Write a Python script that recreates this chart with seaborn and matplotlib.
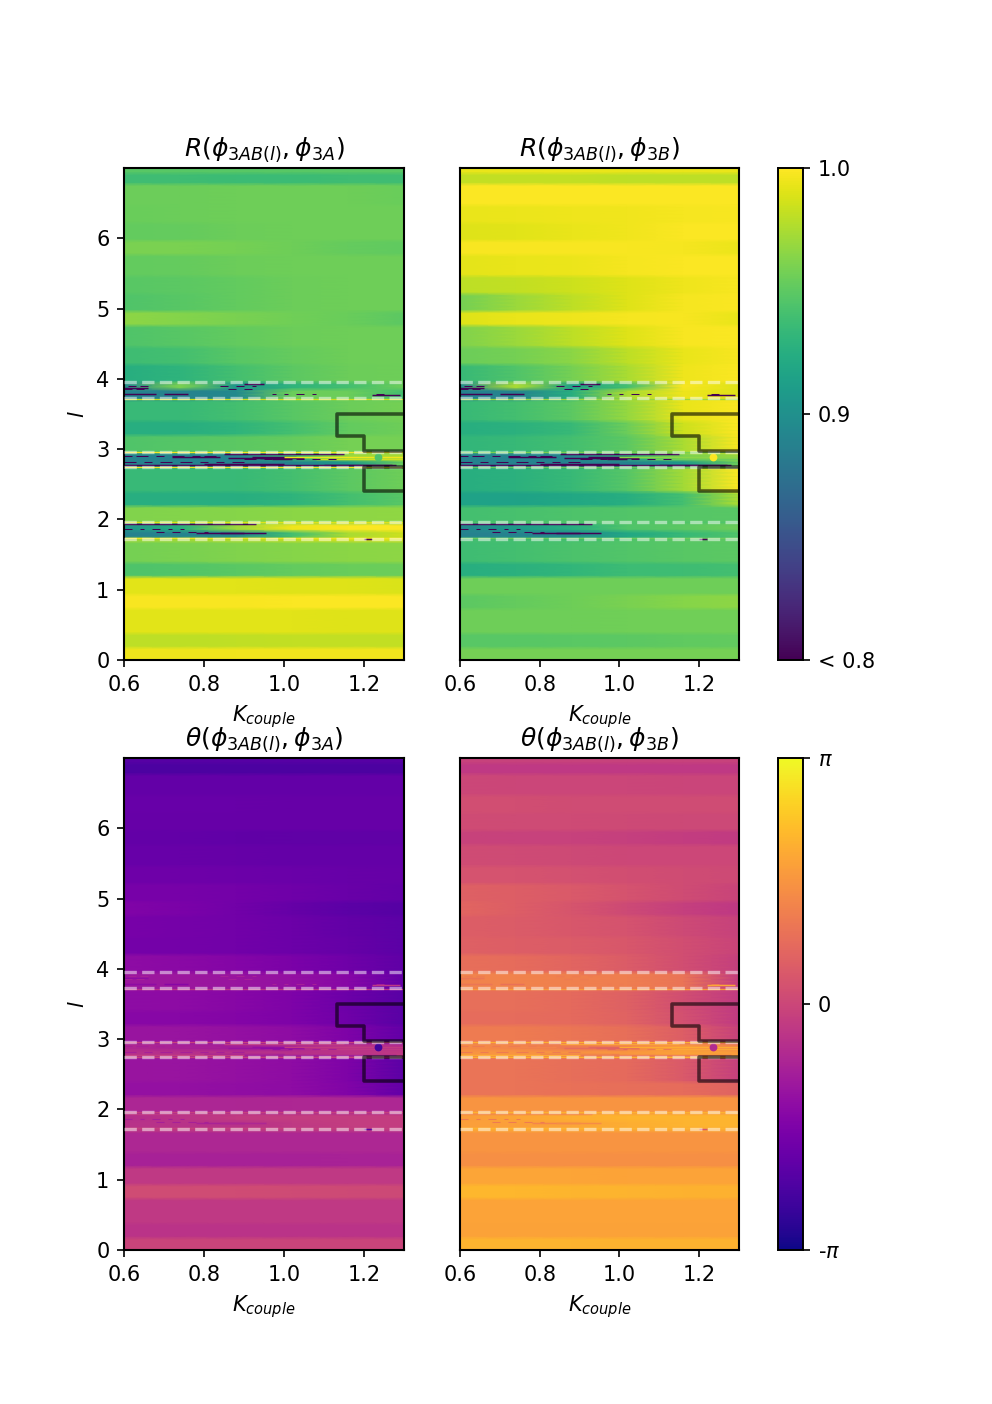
import numpy as np
import pandas as pd
import matplotlib
matplotlib.use("Agg")
import matplotlib.pyplot as plt
import seaborn as sns

# K columns of the tables, and the l edges of the horizontal bands
k_values = [0.6, 0.74, 0.88, 1.02, 1.16, 1.3]
band_edges = [0, .2, .4, .75, .95, 1.2, 1.4, 1.7, 1.75, 1.85, 1.95, 2.2, 2.4, 2.75, 2.85, 2.95, 3.2,
              3.4, 3.7, 3.85, 3.95, 4.2, 4.45, 4.75, 4.95, 5.2, 5.45, 5.75, 5.95, 6.2, 6.45, 6.75, 6.9, 7.0]

# one row per band, from l = 0 upward
r_3a = [
    [.995, .995, .996, .996, .996, .996],
    [.980, .980, .981, .982, .982, .982],
    [.991, .991, .991, .991, .990, .990],
    [.998, .998, .998, .999, .999, .999],
    [.991, .991, .991, .990, .990, .989],
    [.944, .946, .949, .952, .954, .955],
    [.958, .960, .962, .964, .965, .966],
    [.975, .975, .980, .985, .990, .990],
    [.888, .890, .895, .940, .975, .985],
    [.905, .925, .970, .995, .999, .999],
    [.962, .963, .964, .965, .966, .967],
    [.925, .925, .925, .930, .940, .948],
    [.935, .935, .935, .940, .950, .956],
    [.888, .888, .888, .890, .910, .955],
    [.888, .890, .890, .935, .970, .975],
    [.945, .947, .950, .953, .958, .958],
    [.925, .925, .930, .940, .952, .956],
    [.935, .935, .940, .948, .955, .958],
    [.888, .888, .895, .955, .955, .940],
    [.895, .960, .905, .930, .940, .955],
    [.925, .930, .940, .950, .955, .956],
    [.938, .940, .948, .953, .956, .956],
    [.945, .948, .952, .955, .956, .956],
    [.966, .963, .960, .957, .954, .950],
    [.945, .948, .952, .955, .956, .956],
    [.948, .950, .952, .955, .956, .956],
    [.952, .953, .955, .956, .956, .956],
    [.960, .960, .958, .956, .953, .951],
    [.952, .953, .955, .956, .956, .956],
    [.954, .955, .956, .956, .956, .956],
    [.955, .955, .956, .956, .956, .954],
    [.938, .938, .936, .936, .938, .938],
    [.948, .948, .948, .948, .948, .948],
]
r_3b = [
    [.958, .958, .958, .958, .958, .958],
    [.948, .948, .949, .950, .951, .952],
    [.956, .956, .956, .957, .957, .957],
    [.950, .953, .956, .960, .964, .966],
    [.956, .956, .956, .956, .956, .956],
    [.925, .928, .932, .937, .938, .940],
    [.938, .940, .943, .946, .948, .950],
    [.940, .940, .940, .945, .950, .950],
    [.888, .890, .895, .920, .935, .945],
    [.892, .908, .925, .945, .950, .955],
    [.940, .942, .944, .946, .947, .948],
    [.915, .915, .920, .925, .940, .975],
    [.925, .928, .935, .947, .972, .999],
    [.888, .888, .888, .890, .910, .955],
    [.888, .890, .890, .930, .960, .970],
    [.932, .935, .940, .950, .975, .998],
    [.925, .928, .935, .955, .985, .999],
    [.935, .940, .950, .968, .993, .999],
    [.888, .890, .925, .975, .995, .990],
    [.895, .975, .915, .940, .998, .990],
    [.935, .945, .958, .975, .995, .999],
    [.955, .958, .965, .980, .993, .998],
    [.962, .970, .980, .990, .998, .999],
    [.990, .993, .995, .997, .998, .993],
    [.958, .970, .980, .990, .997, .999],
    [.980, .982, .985, .990, .995, .998],
    [.992, .993, .994, .997, .999, .999],
    [.998, .998, .998, .998, .997, .994],
    [.990, .991, .993, .996, .999, .999],
    [.993, .994, .995, .996, .997, .998],
    [.999, .999, .999, .999, .999, .999],
    [.982, .982, .982, .980, .980, .980],
    [.993, .993, .993, .993, .993, .993],
]
theta_3a = [
    [-.06, -.06, -.06, -.06, -.06, -.06],
    [-.44, -.44, -.44, -.44, -.44, -.44],
    [-.31, -.31, -.31, -.31, -.31, -.31],
    [.12, .12, .10, .08, .05, .03],
    [-.30, -.30, -.30, -.30, -.30, -.30],
    [-.82, -.82, -.82, -.81, -.80, -.80],
    [-.70, -.70, -.70, -.70, -.70, -.70],
    [-.25, -.25, -.25, -.25, -.25, -.25],
    [-.45, -.45, -.45, -.30, -.20, -.20],
    [-.55, -.40, -.25, -.20, -.20, -.20],
    [-.72, -.72, -.72, -.70, -.70, -.70],
    [-1.20, -1.20, -1.25, -1.30, -1.50, -2.00],
    [-1.10, -1.12, -1.20, -1.30, -1.55, -2.10],
    [-.50, -.50, -.50, -.50, -.40, -.30],
    [-.65, -.80, -.90, -.70, -.40, -.60],
    [-1.10, -1.12, -1.20, -1.30, -1.55, -2.00],
    [-1.40, -1.40, -1.45, -1.55, -1.80, -2.15],
    [-1.30, -1.32, -1.40, -1.55, -1.85, -2.15],
    [-1.05, -1.05, -1.10, -1.20, -1.40, -2.00],
    [-1.05, -1.05, -1.10, -1.20, -1.40, -2.00],
    [-1.30, -1.35, -1.45, -1.60, -1.80, -2.05],
    [-1.70, -1.72, -1.75, -1.85, -1.95, -2.10],
    [-1.65, -1.70, -1.75, -1.85, -2.00, -2.10],
    [-1.50, -1.60, -1.75, -1.95, -2.10, -2.20],
    [-1.65, -1.68, -1.72, -1.80, -1.90, -2.00],
    [-1.80, -1.82, -1.85, -1.88, -1.92, -1.95],
    [-1.92, -1.93, -1.95, -1.97, -1.97, -1.97],
    [-2.00, -2.00, -2.02, -2.05, -2.05, -2.05],
    [-1.95, -1.95, -1.95, -1.96, -1.96, -1.96],
    [-1.93, -1.93, -1.93, -1.94, -1.94, -1.94],
    [-2.00, -2.00, -2.00, -2.00, -2.00, -2.00],
    [-2.35, -2.35, -2.35, -2.35, -2.35, -2.35],
    [-2.20, -2.20, -2.20, -2.20, -2.20, -2.20],
]
theta_3b = [
    [2.10, 2.10, 2.10, 2.08, 2.08, 2.08],
    [1.80, 1.80, 1.80, 1.80, 1.80, 1.80],
    [1.83, 1.83, 1.83, 1.82, 1.82, 1.82],
    [2.15, 2.14, 2.12, 2.10, 2.07, 2.05],
    [1.85, 1.85, 1.85, 1.84, 1.84, 1.84],
    [1.45, 1.45, 1.45, 1.45, 1.45, 1.45],
    [1.57, 1.57, 1.57, 1.57, 1.57, 1.57],
    [1.95, 1.95, 1.95, 1.95, 1.95, 1.95],
    [1.75, 1.75, 1.85, 2.00, 2.10, 2.10],
    [1.70, 1.85, 2.00, 2.10, 2.10, 2.10],
    [1.57, 1.57, 1.57, 1.57, 1.57, 1.57],
    [.95, .95, .90, .85, .80, .60],
    [.95, .95, .85, .75, .40, -.15],
    [1.55, 1.55, 1.50, 1.60, 1.80, 1.70],
    [1.40, 1.30, 1.10, 1.30, 1.60, 1.20],
    [1.10, 1.10, 1.00, .85, .50, -.10],
    [.80, .80, .75, .60, .20, -.25],
    [.85, .85, .75, .55, .15, -.25],
    [1.25, 1.25, 1.20, 1.15, .95, -.20],
    [1.25, 1.25, 1.20, 1.15, .95, -.20],
    [.85, .80, .65, .45, .15, -.15],
    [.55, .50, .45, .35, .15, -.05],
    [.50, .45, .35, .25, .05, -.10],
    [.65, .50, .30, .05, -.15, -.30],
    [.55, .50, .40, .25, .10, -.05],
    [.25, .25, .20, .15, .10, .05],
    [.10, .08, .05, .02, .00, .00],
    [-.08, -.10, -.10, -.15, -.20, -.25],
    [.10, .08, .08, .05, .03, .03],
    [.15, .15, .12, .10, .10, .10],
    [.00, -.02, -.02, -.02, -.03, -.03],
    [-.30, -.30, -.30, -.30, -.30, -.30],
    [-.10, -.10, -.10, -.10, -.10, -.10],
]

# thin unstable streaks: l, K start, K end, then the value in each panel
streak_l = [1.93, 1.81, 1.80, 1.72,
            2.925, 2.895, 2.885, 2.875, 2.87, 2.865, 2.79, 2.78, 2.775, 2.77,
            3.93, 3.875, 3.79, 3.785, 3.775,
            2.885, 2.86]
streak_k0 = [.60, .78, .84, 1.20,
             .85, .72, .92, .86, .94, .97, .80, 1.10, .60, .90,
             .90, .60, .60, .70, 1.22,
             1.00, 1.08]
streak_k1 = [.93, .90, .955, 1.22,
             1.15, .84, 1.03, .98, 1.05, 1.02, 1.00, 1.27, .98, 1.28,
             .95, .66, .68, .76, 1.29,
             1.30, 1.30]
streak_r3a = [.78, .78, .78, .78,
              .78, .78, .78, .78, .78, .78, .78, .78, .78, .78,
              .79, .78, .80, .78, .78,
              .995, .985]
streak_r3b = [.78, .78, .78, .78,
              .78, .78, .78, .78, .78, .78, .78, .78, .78, .78,
              .79, .78, .80, .78, .78,
              .965, .955]
streak_th3a = [-.3, -.8, -.7, -2.2,
               -.3, -.8, -1.2, -1.1, -1.3, -1.2, -.8, -.1, -.2, -.9,
               -1.3, -1.3, -1.3, -1.4, -.3,
               -.25, -.3]
streak_th3b = [1.4, 1.3, 1.4, .3,
               1.8, 1.3, .7, .8, .6, .7, 1.2, 1.9, 1.95, 1.1,
               1.0, 1.0, 1.0, .9, 1.9,
               1.95, 1.9]

# broken-up speckle along the same resonances
speckle_l = [2.90, 2.90, 2.90, 2.90, 2.90, 2.90,
             2.81, 2.81, 2.81, 2.81, 2.81, 2.81, 2.81,
             2.86, 2.86, 2.86, 2.86, 2.86, 2.86,
             1.86, 1.86, 1.86, 1.86, 1.86,
             1.82, 1.82, 1.82, 1.82,
             3.90, 3.90, 3.90, 3.90, 3.90,
             3.86, 3.86, 3.86, 3.86,
             3.79, 3.79, 3.79, 3.79, 3.79]
speckle_k0 = [.60, .63, .68, .72, .77, .80,
              .60, .65, .69, .74, .79, .83, .87,
              .90, .95, .99, 1.03, 1.07, 1.11,
              .60, .64, .67, .71, .74,
              .68, .72, .76, .80,
              .61, .64, .84, .88, .92,
              .60, .63, .86, .90,
              .97, 1.00, 1.03, 1.07, 1.23]
speckle_k1 = [.62, .66, .70, .75, .79, .83,
              .63, .67, .72, .77, .81, .85, .90,
              .93, .97, 1.01, 1.05, 1.09, 1.13,
              .62, .65, .69, .72, .75,
              .70, .74, .78, .81,
              .63, .66, .86, .90, .93,
              .62, .65, .88, .92,
              .98, 1.01, 1.05, 1.08, 1.25]
speckle_vals = [.79, .79, -.85, 1.1]

# bright lines just inside the dashed lines
edge_l = [1.73, 1.96, 2.745, 2.96, 3.72]
edge_r3a = [.995, .99, .998, .998, .985]
edge_r3b = [.955, .945, .955, .96, .97]
edge_th3a = [-.15, -.15, -.1, -.1, -.4]
edge_th3b = [2.1, 2.05, 2.1, 2.05, 1.7]

# blob near the end of the l = 3 resonance
dot_k = [1.235]
dot_l = [2.89]
dot_vals = [.945, .999, -2.5, -.6]

dashed_l = [1.72, 1.97, 2.74, 2.96, 3.73, 3.96]
contour_upper_k = [1.3, 1.1325, 1.1325, 1.2, 1.2, 1.3]
contour_upper_l = [3.5, 3.5, 3.186, 3.186, 2.97, 2.97]
contour_lower_k = [1.3, 1.2, 1.2, 1.3]
contour_lower_l = [2.74, 2.74, 2.40, 2.40]

k_ticks = [0.6, 0.8, 1.0, 1.2]
l_ticks = [0, 1, 2, 3, 4, 5, 6]

titles = [r"$R(\phi_{3AB(l)}, \phi_{3A})$", r"$R(\phi_{3AB(l)}, \phi_{3B})$",
          r"$\theta(\phi_{3AB(l)}, \phi_{3A})$", r"$\theta(\phi_{3AB(l)}, \phi_{3B})$"]

band_rows = np.round(np.diff(band_edges) / 0.05).astype(int)
n_rows = band_rows.sum()


def k_pos(k):
    return (np.asarray(k) - k_values[0]) / (k_values[-1] - k_values[0]) * (len(k_values) - 1)


def l_pos(l):
    return np.asarray(l) * (n_rows - 1) / 7.0


def draw_panel(ax, rows, streaks, edges, speckle, dot_val, title, cmap, vmin, vmax, left, cax, cbar_kws):
    table = pd.DataFrame(np.repeat(np.array(rows), band_rows, axis=0), columns=k_values)
    sns.heatmap(table, ax=ax, cmap=cmap, vmin=vmin, vmax=vmax, shading="gouraud",
                xticklabels=False, yticklabels=False, linewidths=0,
                cbar=cax is not None, cbar_ax=cax, cbar_kws=cbar_kws)
    ax.set_xlim(0, len(k_values) - 1)
    ax.set_ylim(0, n_rows - 1)
    for side in ax.spines.values():
        side.set_visible(True)
        side.set_linewidth(1.0)

    norm = plt.Normalize(vmin, vmax)
    colormap = plt.get_cmap(cmap)
    ax.hlines(l_pos(edge_l), 0, len(k_values) - 1, colors=colormap(norm(edges)), linewidth=0.6, zorder=2)
    ax.hlines(l_pos(streak_l), k_pos(streak_k0), k_pos(streak_k1), colors=colormap(norm(streaks)),
              linewidth=0.7, zorder=2)
    ax.hlines(l_pos(speckle_l), k_pos(speckle_k0), k_pos(speckle_k1), colors=colormap(norm(speckle)),
              linewidth=0.5, zorder=2)
    ax.scatter(k_pos(dot_k), l_pos(dot_l), s=14, color=colormap(norm(dot_val)), linewidths=0, zorder=2)

    # stability limits and region boundary
    for l in dashed_l:
        ax.axhline(l_pos(l), color="white", linestyle="--", linewidth=1.6, alpha=0.5, zorder=3)
    ax.plot(k_pos(contour_upper_k), l_pos(contour_upper_l), color="black", linewidth=1.7, alpha=0.6, zorder=4)
    ax.plot(k_pos(contour_lower_k), l_pos(contour_lower_l), color="black", linewidth=1.7, alpha=0.6, zorder=4)

    ax.set_title(title, fontsize=12, pad=6)
    ax.set_xticks(k_pos(k_ticks))
    ax.set_xticklabels(["0.6", "0.8", "1.0", "1.2"], rotation=0)
    ax.tick_params(labelsize=10, length=3.5, width=0.8)
    ax.set_xlabel(r"$K_{couple}$", fontsize=10)
    if left:
        ax.set_yticks(l_pos(l_ticks))
        ax.set_yticklabels([str(t) for t in l_ticks], rotation=0)
        ax.set_ylabel(r"$l$", fontsize=10)
    else:
        ax.set_yticks([])


fig = plt.figure(figsize=(992 / 150, 1404 / 150), dpi=150)
W, H = 992.0, 1404.0


def box(x0, x1, y0, y1):
    return [x0 / W, 1 - y1 / H, (x1 - x0) / W, (y1 - y0) / H]


ax_ra = fig.add_axes(box(124, 404, 168, 660))
ax_rb = fig.add_axes(box(460, 739, 168, 660))
cax_r = fig.add_axes(box(778, 803, 168, 660))
ax_ta = fig.add_axes(box(124, 404, 758, 1250))
ax_tb = fig.add_axes(box(460, 739, 758, 1250))
cax_t = fig.add_axes(box(778, 803, 758, 1250))

r_args = dict(cmap="viridis", vmin=0.8, vmax=1.0)
th_args = dict(cmap="plasma", vmin=-np.pi, vmax=np.pi)

draw_panel(ax_ra, r_3a, streak_r3a, edge_r3a, speckle_vals[0], dot_vals[0], titles[0],
           left=True, cax=None, cbar_kws=None, **r_args)
draw_panel(ax_rb, r_3b, streak_r3b, edge_r3b, speckle_vals[1], dot_vals[1], titles[1],
           left=False, cax=cax_r, cbar_kws={"ticks": [0.8, 0.9, 1.0]}, **r_args)
draw_panel(ax_ta, theta_3a, streak_th3a, edge_th3a, speckle_vals[2], dot_vals[2], titles[2],
           left=True, cax=None, cbar_kws=None, **th_args)
draw_panel(ax_tb, theta_3b, streak_th3b, edge_th3b, speckle_vals[3], dot_vals[3], titles[3],
           left=False, cax=cax_t, cbar_kws={"ticks": [-np.pi, 0, np.pi]}, **th_args)

cax_r.set_yticklabels(["< 0.8", "0.9", "1.0"])
cax_t.set_yticklabels([r"-$\pi$", "0", r"$\pi$"])
for cax in (cax_r, cax_t):
    cax.tick_params(labelsize=10, length=3.5, width=0.8)
    for side in cax.spines.values():
        side.set_visible(True)
        side.set_linewidth(0.8)

fig.savefig("out.png", dpi=150)
